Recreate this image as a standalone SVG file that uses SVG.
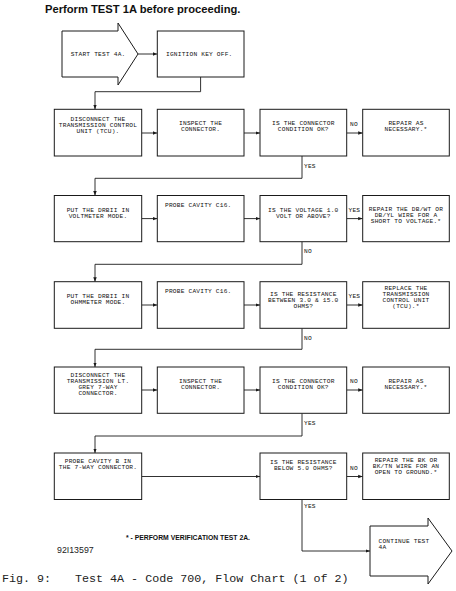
<svg xmlns="http://www.w3.org/2000/svg" width="456" height="591" viewBox="0 0 456 591">
<style>
.box{fill:#fff;stroke:#1a1a1a;stroke-width:1}
.c{fill:none;stroke:#1a1a1a;stroke-width:0.9}
.t{font-family:"Liberation Mono","DejaVu Sans Mono",monospace;font-size:6.2px;letter-spacing:0.2px;fill:#111;text-anchor:middle}
.l{font-family:"Liberation Mono","DejaVu Sans Mono",monospace;font-size:6.2px;letter-spacing:0.2px;fill:#111}
.title{font-family:"Liberation Sans",Arial,sans-serif;font-weight:bold;font-size:11.2px;fill:#111}
.note{font-family:"Liberation Sans",Arial,sans-serif;font-weight:bold;font-size:7px;fill:#111}
.code{font-family:"Liberation Sans",Arial,sans-serif;font-size:8.8px;fill:#222}
.cap{font-family:"Liberation Mono","Courier New",monospace;font-size:11.7px;fill:#222}
</style>
<defs>
<marker id="ah" viewBox="0 0 6 6" refX="6" refY="3" markerWidth="4.5" markerHeight="4.5" markerUnits="userSpaceOnUse" orient="auto">
<path d="M0,0.7 L6,3 L0,5.3 z" fill="#1a1a1a"/>
</marker>
</defs>
<rect width="456" height="591" fill="#fff"/>
<text class="title" x="45" y="13">Perform TEST 1A before proceeding.</text>

<g id="connectors">
<path class="c" d="M138,54 H157.3" marker-end="url(#ah)"/>
<path class="c" d="M200.6,77 V91.7 H95 V109.3" marker-end="url(#ah)"/>
<path class="c" d="M141.7,133 H157.3" marker-end="url(#ah)"/>
<path class="c" d="M244,133 H260" marker-end="url(#ah)"/>
<path class="c" d="M346.7,133 H362.7" marker-end="url(#ah)"/>
<path class="c" d="M302,156 V178.3 H95 V195.5" marker-end="url(#ah)"/>
<path class="c" d="M141.7,218.6 H157.3" marker-end="url(#ah)"/>
<path class="c" d="M244,218.6 H260" marker-end="url(#ah)"/>
<path class="c" d="M346.7,218.6 H362.7" marker-end="url(#ah)"/>
<path class="c" d="M302,241.7 V264.3 H95 V281.7" marker-end="url(#ah)"/>
<path class="c" d="M141.7,305 H157.3" marker-end="url(#ah)"/>
<path class="c" d="M244,305 H260" marker-end="url(#ah)"/>
<path class="c" d="M346.7,305 H362.7" marker-end="url(#ah)"/>
<path class="c" d="M302,328.3 V349.3 H95 V367" marker-end="url(#ah)"/>
<path class="c" d="M141.7,390 H157.3" marker-end="url(#ah)"/>
<path class="c" d="M244,390 H260" marker-end="url(#ah)"/>
<path class="c" d="M346.7,390 H362.7" marker-end="url(#ah)"/>
<path class="c" d="M302,413.3 V436 H95 V453" marker-end="url(#ah)"/>
<path class="c" d="M141.7,476.5 H260" marker-end="url(#ah)"/>
<path class="c" d="M346.7,476.5 H362.7" marker-end="url(#ah)"/>
<path class="c" d="M302,499.5 V551 H370" marker-end="url(#ah)"/>
<text class="l" x="350" y="126">NO</text>
<text class="l" x="304" y="167.5">YES</text>
<text class="l" x="348.5" y="211.6">YES</text>
<text class="l" x="304" y="253.2">NO</text>
<text class="l" x="348.5" y="298">YES</text>
<text class="l" x="304" y="339.8">NO</text>
<text class="l" x="350" y="383">NO</text>
<text class="l" x="304" y="424.8">YES</text>
<text class="l" x="350" y="469.5">NO</text>
<text class="l" x="304" y="508">YES</text>
</g>

<g id="start">
<path class="box" d="M62,31 H118 V23 L138,54 L118,85 V77 H62 Z"/>
<text class="l" x="70.7" y="56">START TEST 4A.</text>
</g>
<g id="ignition">
<rect class="box" x="157.3" y="31" width="86.7" height="46"/>
<text class="l" x="166" y="56">IGNITION KEY OFF.</text>
</g>

<g id="disconnect-tcu">
<rect class="box" x="54.3" y="109.3" width="87.4" height="46.7"/>
<text class="t" x="98" y="120.5">DISCONNECT THE</text>
<text class="t" x="98" y="126.7">TRANSMISSION CONTROL</text>
<text class="t" x="98" y="132.9">UNIT (TCU).</text>
</g>
<g id="inspect-1">
<rect class="box" x="157.3" y="109.3" width="86.7" height="46.7"/>
<text class="t" x="200.6" y="124.5">INSPECT THE</text>
<text class="t" x="200.6" y="130.7">CONNECTOR.</text>
</g>
<g id="connector-ok-1">
<rect class="box" x="260" y="109.3" width="86.7" height="46.7"/>
<text class="t" x="303.3" y="124.5">IS THE CONNECTOR</text>
<text class="t" x="303.3" y="130.7">CONDITION OK?</text>
</g>
<g id="repair-1">
<rect class="box" x="362.7" y="109.3" width="86.6" height="46.7"/>
<text class="t" x="406" y="124.5">REPAIR AS</text>
<text class="t" x="406" y="130.7">NECESSARY.*</text>
</g>

<g id="voltmeter">
<rect class="box" x="54.3" y="195.5" width="87.4" height="46.2"/>
<text class="t" x="98" y="211.5">PUT THE DRBII IN</text>
<text class="t" x="98" y="217.7">VOLTMETER MODE.</text>
</g>
<g id="probe-c16-1">
<rect class="box" x="157.3" y="195.5" width="86.7" height="46.2"/>
<text class="l" x="165" y="206.5">PROBE CAVITY C16.</text>
</g>
<g id="voltage-q">
<rect class="box" x="260" y="195.5" width="86.7" height="46.2"/>
<text class="t" x="303.3" y="211.5">IS THE VOLTAGE 1.0</text>
<text class="t" x="303.3" y="217.7">VOLT OR ABOVE?</text>
</g>
<g id="repair-short">
<rect class="box" x="362.7" y="195.5" width="86.6" height="46.2"/>
<text class="t" x="406" y="210.5">REPAIR THE DB/WT OR</text>
<text class="t" x="406" y="216.7">DB/YL WIRE FOR A</text>
<text class="t" x="406" y="222.9">SHORT TO VOLTAGE.*</text>
</g>

<g id="ohmmeter">
<rect class="box" x="54.3" y="281.7" width="87.4" height="46.6"/>
<text class="t" x="98" y="297.7">PUT THE DRBII IN</text>
<text class="t" x="98" y="303.9">OHMMETER MODE.</text>
</g>
<g id="probe-c16-2">
<rect class="box" x="157.3" y="281.7" width="86.7" height="46.6"/>
<text class="l" x="165" y="292.7">PROBE CAVITY C16.</text>
</g>
<g id="resistance-q1">
<rect class="box" x="260" y="281.7" width="86.7" height="46.6"/>
<text class="t" x="303.3" y="295.5">IS THE RESISTANCE</text>
<text class="t" x="303.3" y="301.7">BETWEEN 3.0 &amp; 15.0</text>
<text class="t" x="303.3" y="307.9">OHMS?</text>
</g>
<g id="replace-tcu">
<rect class="box" x="362.7" y="281.7" width="86.6" height="46.6"/>
<text class="t" x="406" y="289.5">REPLACE THE</text>
<text class="t" x="406" y="295.7">TRANSMISSION</text>
<text class="t" x="406" y="301.9">CONTROL UNIT</text>
<text class="t" x="406" y="308.1">(TCU).*</text>
</g>

<g id="disconnect-7way">
<rect class="box" x="54.3" y="367" width="87.4" height="46.3"/>
<text class="t" x="98" y="376.8">DISCONNECT THE</text>
<text class="t" x="98" y="383">TRANSMISSION LT.</text>
<text class="t" x="98" y="389.2">GREY 7-WAY</text>
<text class="t" x="98" y="395.4">CONNECTOR.</text>
</g>
<g id="inspect-2">
<rect class="box" x="157.3" y="367" width="86.7" height="46.3"/>
<text class="t" x="200.6" y="383">INSPECT THE</text>
<text class="t" x="200.6" y="389.2">CONNECTOR.</text>
</g>
<g id="connector-ok-2">
<rect class="box" x="260" y="367" width="86.7" height="46.3"/>
<text class="t" x="303.3" y="383">IS THE CONNECTOR</text>
<text class="t" x="303.3" y="389.2">CONDITION OK?</text>
</g>
<g id="repair-2">
<rect class="box" x="362.7" y="367" width="86.6" height="46.3"/>
<text class="t" x="406" y="383">REPAIR AS</text>
<text class="t" x="406" y="389.2">NECESSARY.*</text>
</g>

<g id="probe-b">
<rect class="box" x="54.3" y="453" width="87.4" height="46.5"/>
<text class="t" x="98" y="462.5">PROBE CAVITY B IN</text>
<text class="t" x="98" y="468.7">THE 7-WAY CONNECTOR.</text>
</g>
<g id="resistance-q2">
<rect class="box" x="260" y="453" width="86.7" height="46.5"/>
<text class="t" x="303.3" y="464">IS THE RESISTANCE</text>
<text class="t" x="303.3" y="470.2">BELOW 5.0 OHMS?</text>
</g>
<g id="repair-open">
<rect class="box" x="362.7" y="453" width="86.6" height="46.5"/>
<text class="t" x="406" y="461.5">REPAIR THE BK OR</text>
<text class="t" x="406" y="467.7">BK/TN WIRE FOR AN</text>
<text class="t" x="406" y="473.9">OPEN TO GROUND.*</text>
</g>

<g id="continue">
<path class="box" d="M370,526 H428 V518 L452,551 L428,584 V576 H370 Z"/>
<text class="l" x="378.5" y="543">CONTINUE TEST</text>
<text class="l" x="378.5" y="549.2">4A</text>
</g>

<text class="note" x="126" y="540" textLength="124" lengthAdjust="spacingAndGlyphs">* - PERFORM VERIFICATION TEST 2A.</text>
<text class="code" x="57" y="553">92I13597</text>
<text class="cap" y="582"><tspan x="2">Fig. 9:</tspan><tspan x="75">Test 4A - Code 700, Flow Chart (1 of 2)</tspan></text>
</svg>
